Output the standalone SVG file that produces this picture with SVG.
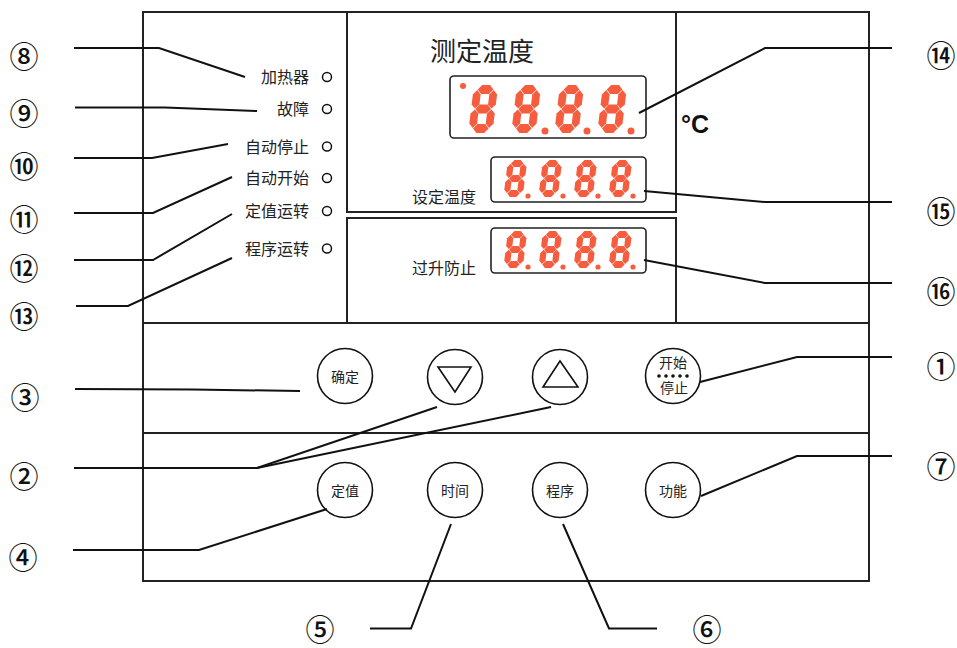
<svg xmlns="http://www.w3.org/2000/svg" xmlns:xlink="http://www.w3.org/1999/xlink" width="957" height="648" viewBox="0 0 957 648">
<style>
.frame{fill:none;stroke:#222;stroke-width:2}
.disp{fill:#fff;stroke:#222;stroke-width:1.6}
.lead{fill:none;stroke:#111;stroke-width:2}
.btn{fill:#fff;stroke:#111;stroke-width:1.6}
.led{fill:#fff;stroke:#111;stroke-width:1.5}
.seg{fill:#F65C3E}
.cn{font-family:"Noto Sans CJK JP","Noto Sans CJK SC",sans-serif;font-size:29px;font-weight:500;fill:#111;text-anchor:middle}
.lbl{font-family:"Noto Sans CJK SC",sans-serif;font-size:16px;fill:#222}
.bt{font-family:"Noto Sans CJK SC",sans-serif;font-size:14px;fill:#222;text-anchor:middle}
</style>
<defs>
<g id="dig">
<polygon class="seg" points="5,4.5 9.5,0 18.5,0 23,4.5 18.5,9 9.5,9"/>
<polygon class="seg" points="5,24 9.5,19.5 18.5,19.5 23,24 18.5,28.5 9.5,28.5"/>
<polygon class="seg" points="5,43.5 9.5,39 18.5,39 23,43.5 18.5,48 9.5,48"/>
<polygon class="seg" points="4.5,5 9,9.5 9,19.5 4.5,23.5 0,19.5 0,9.5"/>
<polygon class="seg" points="23.5,5 28,9.5 28,19.5 23.5,23.5 19,19.5 19,9.5"/>
<polygon class="seg" points="4.5,24.5 9,28.5 9,38.5 4.5,43 0,38.5 0,28.5"/>
<polygon class="seg" points="23.5,24.5 28,28.5 28,38.5 23.5,43 19,38.5 19,28.5"/>
</g>
</defs>
<rect width="957" height="648" fill="#fff"/>

<g id="panel">
<rect class="frame" x="143" y="12" width="726" height="569"/>
<line class="frame" x1="143" y1="323" x2="869" y2="323"/>
<line class="frame" x1="143" y1="433" x2="869" y2="433"/>
</g>

<g id="display-upper">
<rect class="frame" x="347" y="12" width="329" height="200"/>
<text x="430" y="61" font-family="'Noto Sans CJK SC',sans-serif" font-size="26" fill="#222">测定温度</text>
<text x="681" y="133" font-family="'Liberation Sans',Arial,sans-serif" font-size="25" font-weight="bold" fill="#111">°C</text>
</g>

<g id="pv-display">
<rect class="disp" x="450" y="76" width="196" height="62" rx="4"/>
<circle class="seg" cx="463" cy="86" r="3"/>
<use xlink:href="#dig" transform="translate(474,85) scale(0.865,1) skewX(-8)"/>
<use xlink:href="#dig" transform="translate(517,85) scale(0.865,1) skewX(-8)"/>
<use xlink:href="#dig" transform="translate(560,85) scale(0.865,1) skewX(-8)"/>
<use xlink:href="#dig" transform="translate(603,85) scale(0.865,1) skewX(-8)"/>
<circle class="seg" cx="545" cy="131" r="3.5"/>
<circle class="seg" cx="587" cy="131" r="3.5"/>
<circle class="seg" cx="631" cy="131" r="3.5"/>
</g>

<g id="sv-display">
<text class="lbl" x="412" y="203">设定温度</text>
<rect class="disp" x="491" y="157" width="155" height="45" rx="4"/>
<use xlink:href="#dig" transform="translate(508,160) scale(0.69,0.77) skewX(-8)"/>
<use xlink:href="#dig" transform="translate(543,160) scale(0.69,0.77) skewX(-8)"/>
<use xlink:href="#dig" transform="translate(578,160) scale(0.69,0.77) skewX(-8)"/>
<use xlink:href="#dig" transform="translate(613,160) scale(0.69,0.77) skewX(-8)"/>
<circle class="seg" cx="528" cy="196" r="2.6"/>
<circle class="seg" cx="563" cy="196" r="2.6"/>
<circle class="seg" cx="598" cy="196" r="2.6"/>
<circle class="seg" cx="633" cy="196" r="2.6"/>
</g>

<g id="otp-display">
<rect class="frame" x="347" y="218" width="329" height="105"/>
<text class="lbl" x="412" y="274">过升防止</text>
<rect class="disp" x="491" y="228" width="155" height="45" rx="4"/>
<use xlink:href="#dig" transform="translate(508,231) scale(0.69,0.77) skewX(-8)"/>
<use xlink:href="#dig" transform="translate(543,231) scale(0.69,0.77) skewX(-8)"/>
<use xlink:href="#dig" transform="translate(578,231) scale(0.69,0.77) skewX(-8)"/>
<use xlink:href="#dig" transform="translate(613,231) scale(0.69,0.77) skewX(-8)"/>
<circle class="seg" cx="528" cy="267" r="2.6"/>
<circle class="seg" cx="563" cy="267" r="2.6"/>
<circle class="seg" cx="598" cy="267" r="2.6"/>
<circle class="seg" cx="633" cy="267" r="2.6"/>
</g>

<g id="indicators">
<g id="led-heater"><text class="lbl" x="309" y="83" text-anchor="end">加热器</text><circle class="led" cx="327" cy="77" r="4.5"/></g>
<g id="led-fault"><text class="lbl" x="309" y="115" text-anchor="end">故障</text><circle class="led" cx="327" cy="109" r="4.5"/></g>
<g id="led-autostop"><text class="lbl" x="309" y="152.5" text-anchor="end">自动停止</text><circle class="led" cx="327" cy="146.5" r="4.5"/></g>
<g id="led-autostart"><text class="lbl" x="309" y="184" text-anchor="end">自动开始</text><circle class="led" cx="327" cy="178" r="4.5"/></g>
<g id="led-fixed"><text class="lbl" x="309" y="217" text-anchor="end">定值运转</text><circle class="led" cx="327" cy="211" r="4.5"/></g>
<g id="led-program"><text class="lbl" x="309" y="254.5" text-anchor="end">程序运转</text><circle class="led" cx="327" cy="248.5" r="4.5"/></g>
</g>

<g id="btn-enter"><circle class="btn" cx="345" cy="376" r="27.5"/><text class="bt" x="345" y="381.5">确定</text></g>
<g id="btn-down"><circle class="btn" cx="455" cy="377" r="27.5"/><polygon fill="none" stroke="#111" stroke-width="1.6" points="438,367 471,367 455,392"/></g>
<g id="btn-up"><circle class="btn" cx="560" cy="377" r="27.5"/><polygon fill="none" stroke="#111" stroke-width="1.6" points="560,361 543,387 578,387"/></g>
<g id="btn-startstop"><circle class="btn" cx="673" cy="376" r="27.5"/>
<text class="bt" x="673" y="368" font-size="13">开始</text>
<g fill="#111"><circle cx="659" cy="376" r="1.8"/><circle cx="666" cy="376" r="1.8"/><circle cx="673" cy="376" r="1.8"/><circle cx="680" cy="376" r="1.8"/><circle cx="687" cy="376" r="1.8"/></g>
<text class="bt" x="674" y="393" font-size="13">停止</text></g>
<g id="btn-fixed"><circle class="btn" cx="345" cy="490" r="27.5"/><text class="bt" x="345" y="495.5">定值</text></g>
<g id="btn-time"><circle class="btn" cx="455" cy="490" r="27.5"/><text class="bt" x="455" y="495.5">时间</text></g>
<g id="btn-program"><circle class="btn" cx="560" cy="490" r="27.5"/><text class="bt" x="560" y="495.5">程序</text></g>
<g id="btn-function"><circle class="btn" cx="673" cy="490" r="27.5"/><text class="bt" x="673" y="495.5">功能</text></g>

<g id="connectors">
<polyline class="lead" points="74,48 159,48 245,77"/>
<polyline class="lead" points="75,107.5 165,107.5 257,111"/>
<polyline class="lead" points="74,158 152,158 228,144"/>
<polyline class="lead" points="74,213 153,213 232,177"/>
<polyline class="lead" points="74,260 153,260 232,214"/>
<polyline class="lead" points="76,306 128,306 232,258"/>
<polyline class="lead" points="639,113 765,48 892,48"/>
<polyline class="lead" points="644,191 765,202 892,202"/>
<polyline class="lead" points="644,260 765,283 892,283"/>
<polyline class="lead" points="700,382 797,357 892,357"/>
<polyline class="lead" points="701,496 797,456 892,456"/>
<polyline class="lead" points="75,389 193,389.5 300,391"/>
<polyline class="lead" points="74,468 257,468 437,407"/>
<line class="lead" x1="257" y1="468" x2="551" y2="407"/>
<polyline class="lead" points="73,550 199,550 327,509"/>
<polyline class="lead" points="370,628.5 411,628.5 451,524"/>
<polyline class="lead" points="657,628.5 609,628.5 563,524"/>
</g>

<g id="callouts">
<text class="cn" x="24" y="68">⑧</text>
<text class="cn" x="24" y="125">⑨</text>
<text class="cn" x="24" y="178">⑩</text>
<text class="cn" x="24" y="231">⑪</text>
<text class="cn" x="24" y="280">⑫</text>
<text class="cn" x="24" y="328">⑬</text>
<text class="cn" x="941" y="67">⑭</text>
<text class="cn" x="941" y="223">⑮</text>
<text class="cn" x="941" y="303">⑯</text>
<text class="cn" x="941" y="378">①</text>
<text class="cn" x="941" y="478">⑦</text>
<text class="cn" x="25" y="409">③</text>
<text class="cn" x="24" y="488">②</text>
<text class="cn" x="23" y="569">④</text>
<text class="cn" x="320" y="641">⑤</text>
<text class="cn" x="707" y="641">⑥</text>
</g>
</svg>
